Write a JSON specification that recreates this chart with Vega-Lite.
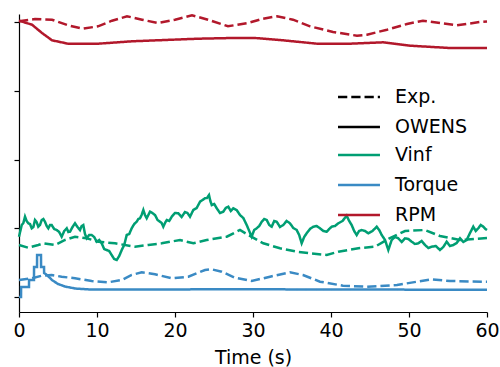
{
  "$schema": "https://vega.github.io/schema/vega-lite/v6.json",
  "width": 468,
  "height": 298,
  "autosize": "none",
  "padding": {"left": 19, "top": 14, "right": 13, "bottom": 55},
  "background": "white",
  "config": {"view": {"stroke": null}, "font": "DejaVu Sans"},
  "data": {"values": [
    {"t":0,"v":275.7,"var":"RPM","src":"Exp."},{"t":2.05,"v":278,"var":"RPM","src":"Exp."},{"t":4.23,"v":277.3,"var":"RPM","src":"Exp."},{"t":6.28,"v":271.7,"var":"RPM","src":"Exp."},{"t":8.21,"v":268.3,"var":"RPM","src":"Exp."},{"t":10.13,"v":270.7,"var":"RPM","src":"Exp."},{"t":11.92,"v":276.3,"var":"RPM","src":"Exp."},{"t":13.85,"v":280.7,"var":"RPM","src":"Exp."},{"t":15.77,"v":277.3,"var":"RPM","src":"Exp."},{"t":17.82,"v":274,"var":"RPM","src":"Exp."},{"t":20,"v":277.3,"var":"RPM","src":"Exp."},{"t":22.18,"v":281.7,"var":"RPM","src":"Exp."},{"t":24.23,"v":277.3,"var":"RPM","src":"Exp."},{"t":26.79,"v":270.7,"var":"RPM","src":"Exp."},{"t":29.36,"v":274,"var":"RPM","src":"Exp."},{"t":31.28,"v":278.3,"var":"RPM","src":"Exp."},{"t":33.08,"v":280.7,"var":"RPM","src":"Exp."},{"t":35.13,"v":277.3,"var":"RPM","src":"Exp."},{"t":37.31,"v":270.7,"var":"RPM","src":"Exp."},{"t":40.26,"v":265,"var":"RPM","src":"Exp."},{"t":43.33,"v":261.3,"var":"RPM","src":"Exp."},{"t":44.62,"v":262.3,"var":"RPM","src":"Exp."},{"t":47.18,"v":267.3,"var":"RPM","src":"Exp."},{"t":49.74,"v":273,"var":"RPM","src":"Exp."},{"t":51.79,"v":276.3,"var":"RPM","src":"Exp."},{"t":53.97,"v":274,"var":"RPM","src":"Exp."},{"t":56.15,"v":271.7,"var":"RPM","src":"Exp."},{"t":59.1,"v":275,"var":"RPM","src":"Exp."},{"t":60,"v":275.5,"var":"RPM","src":"Exp."},

    {"t":0,"v":276.3,"var":"RPM","src":"OWENS"},{"t":1.67,"v":272.3,"var":"RPM","src":"OWENS"},{"t":2.95,"v":264,"var":"RPM","src":"OWENS"},{"t":4.23,"v":256.7,"var":"RPM","src":"OWENS"},{"t":6.28,"v":253.3,"var":"RPM","src":"OWENS"},{"t":10.13,"v":253.3,"var":"RPM","src":"OWENS"},{"t":14.49,"v":255.7,"var":"RPM","src":"OWENS"},{"t":18.72,"v":257,"var":"RPM","src":"OWENS"},{"t":22.95,"v":258.3,"var":"RPM","src":"OWENS"},{"t":27.31,"v":259,"var":"RPM","src":"OWENS"},{"t":30.26,"v":259,"var":"RPM","src":"OWENS"},{"t":33.85,"v":256.7,"var":"RPM","src":"OWENS"},{"t":38.21,"v":253.3,"var":"RPM","src":"OWENS"},{"t":42.44,"v":253.3,"var":"RPM","src":"OWENS"},{"t":46.67,"v":254.7,"var":"RPM","src":"OWENS"},{"t":50.13,"v":251.3,"var":"RPM","src":"OWENS"},{"t":55.26,"v":249,"var":"RPM","src":"OWENS"},{"t":60,"v":249,"var":"RPM","src":"OWENS"},

    {"t":0,"v":52,"var":"Vinf","src":"Exp."},{"t":1.19,"v":49.3,"var":"Vinf","src":"Exp."},{"t":2.47,"v":52,"var":"Vinf","src":"Exp."},{"t":3.12,"v":53.7,"var":"Vinf","src":"Exp."},{"t":4.62,"v":52,"var":"Vinf","src":"Exp."},{"t":5.9,"v":57,"var":"Vinf","src":"Exp."},{"t":7.18,"v":60.3,"var":"Vinf","src":"Exp."},{"t":8.68,"v":58.7,"var":"Vinf","src":"Exp."},{"t":10.17,"v":55.3,"var":"Vinf","src":"Exp."},{"t":12.31,"v":53.7,"var":"Vinf","src":"Exp."},{"t":14.87,"v":50.3,"var":"Vinf","src":"Exp."},{"t":16.58,"v":52,"var":"Vinf","src":"Exp."},{"t":18.29,"v":53.7,"var":"Vinf","src":"Exp."},{"t":20.64,"v":57,"var":"Vinf","src":"Exp."},{"t":22.35,"v":53.7,"var":"Vinf","src":"Exp."},{"t":24.06,"v":57,"var":"Vinf","src":"Exp."},{"t":26.63,"v":60.3,"var":"Vinf","src":"Exp."},{"t":28.33,"v":67,"var":"Vinf","src":"Exp."},{"t":29.4,"v":62,"var":"Vinf","src":"Exp."},{"t":31.32,"v":53.7,"var":"Vinf","src":"Exp."},{"t":33.46,"v":48.7,"var":"Vinf","src":"Exp."},{"t":35.6,"v":45.3,"var":"Vinf","src":"Exp."},{"t":37.31,"v":43.7,"var":"Vinf","src":"Exp."},{"t":39.45,"v":42,"var":"Vinf","src":"Exp."},{"t":40.94,"v":45.3,"var":"Vinf","src":"Exp."},{"t":43.5,"v":48.7,"var":"Vinf","src":"Exp."},{"t":45.64,"v":50.3,"var":"Vinf","src":"Exp."},{"t":47.56,"v":59,"var":"Vinf","src":"Exp."},{"t":49.49,"v":66,"var":"Vinf","src":"Exp."},{"t":52.05,"v":67,"var":"Vinf","src":"Exp."},{"t":53.97,"v":61,"var":"Vinf","src":"Exp."},{"t":56.54,"v":57,"var":"Vinf","src":"Exp."},{"t":60,"v":59,"var":"Vinf","src":"Exp."},

    {"t":0,"v":60.3,"var":"Vinf","src":"OWENS"},{"t":0.35,"v":72,"var":"Vinf","src":"OWENS"},{"t":0.56,"v":74,"var":"Vinf","src":"OWENS"},{"t":0.77,"v":80.3,"var":"Vinf","src":"OWENS"},{"t":0.98,"v":76,"var":"Vinf","src":"OWENS"},{"t":1.19,"v":73.7,"var":"Vinf","src":"OWENS"},{"t":1.41,"v":73,"var":"Vinf","src":"OWENS"},{"t":1.63,"v":68.7,"var":"Vinf","src":"OWENS"},{"t":1.84,"v":70,"var":"Vinf","src":"OWENS"},{"t":2.05,"v":77,"var":"Vinf","src":"OWENS"},{"t":2.26,"v":75,"var":"Vinf","src":"OWENS"},{"t":2.47,"v":70.3,"var":"Vinf","src":"OWENS"},{"t":2.69,"v":72,"var":"Vinf","src":"OWENS"},{"t":2.91,"v":77,"var":"Vinf","src":"OWENS"},{"t":3.12,"v":78,"var":"Vinf","src":"OWENS"},{"t":3.33,"v":75.3,"var":"Vinf","src":"OWENS"},{"t":3.55,"v":71,"var":"Vinf","src":"OWENS"},{"t":3.76,"v":68.7,"var":"Vinf","src":"OWENS"},{"t":3.98,"v":72,"var":"Vinf","src":"OWENS"},{"t":4.19,"v":72,"var":"Vinf","src":"OWENS"},{"t":4.51,"v":68,"var":"Vinf","src":"OWENS"},{"t":4.83,"v":67,"var":"Vinf","src":"OWENS"},{"t":5.15,"v":65,"var":"Vinf","src":"OWENS"},{"t":5.47,"v":60.3,"var":"Vinf","src":"OWENS"},{"t":5.8,"v":66,"var":"Vinf","src":"OWENS"},{"t":6.12,"v":68.7,"var":"Vinf","src":"OWENS"},{"t":6.33,"v":65,"var":"Vinf","src":"OWENS"},{"t":6.54,"v":65.3,"var":"Vinf","src":"OWENS"},{"t":6.86,"v":70,"var":"Vinf","src":"OWENS"},{"t":7.18,"v":73.7,"var":"Vinf","src":"OWENS"},{"t":7.5,"v":70,"var":"Vinf","src":"OWENS"},{"t":7.82,"v":67,"var":"Vinf","src":"OWENS"},{"t":8.03,"v":71,"var":"Vinf","src":"OWENS"},{"t":8.24,"v":72,"var":"Vinf","src":"OWENS"},{"t":8.46,"v":63,"var":"Vinf","src":"OWENS"},{"t":8.68,"v":58.7,"var":"Vinf","src":"OWENS"},{"t":9.0,"v":62,"var":"Vinf","src":"OWENS"},{"t":9.32,"v":62,"var":"Vinf","src":"OWENS"},{"t":9.64,"v":60,"var":"Vinf","src":"OWENS"},{"t":9.96,"v":55.3,"var":"Vinf","src":"OWENS"},{"t":10.28,"v":57,"var":"Vinf","src":"OWENS"},{"t":10.6,"v":53.7,"var":"Vinf","src":"OWENS"},{"t":10.92,"v":48,"var":"Vinf","src":"OWENS"},{"t":11.24,"v":47,"var":"Vinf","src":"OWENS"},{"t":11.56,"v":46,"var":"Vinf","src":"OWENS"},{"t":11.88,"v":42,"var":"Vinf","src":"OWENS"},{"t":12.2,"v":38,"var":"Vinf","src":"OWENS"},{"t":12.53,"v":37,"var":"Vinf","src":"OWENS"},{"t":12.85,"v":41,"var":"Vinf","src":"OWENS"},{"t":13.17,"v":47,"var":"Vinf","src":"OWENS"},{"t":13.49,"v":52,"var":"Vinf","src":"OWENS"},{"t":13.81,"v":62,"var":"Vinf","src":"OWENS"},{"t":14.13,"v":63,"var":"Vinf","src":"OWENS"},{"t":14.45,"v":68.7,"var":"Vinf","src":"OWENS"},{"t":14.77,"v":73,"var":"Vinf","src":"OWENS"},{"t":15.09,"v":75.3,"var":"Vinf","src":"OWENS"},{"t":15.3,"v":78,"var":"Vinf","src":"OWENS"},{"t":15.51,"v":78.7,"var":"Vinf","src":"OWENS"},{"t":15.72,"v":82,"var":"Vinf","src":"OWENS"},{"t":15.94,"v":87,"var":"Vinf","src":"OWENS"},{"t":16.15,"v":82,"var":"Vinf","src":"OWENS"},{"t":16.37,"v":78.7,"var":"Vinf","src":"OWENS"},{"t":16.58,"v":82,"var":"Vinf","src":"OWENS"},{"t":16.79,"v":85.3,"var":"Vinf","src":"OWENS"},{"t":17.1,"v":84,"var":"Vinf","src":"OWENS"},{"t":17.44,"v":82,"var":"Vinf","src":"OWENS"},{"t":17.76,"v":77,"var":"Vinf","src":"OWENS"},{"t":18.08,"v":75.3,"var":"Vinf","src":"OWENS"},{"t":18.29,"v":74,"var":"Vinf","src":"OWENS"},{"t":18.5,"v":70.3,"var":"Vinf","src":"OWENS"},{"t":18.72,"v":74,"var":"Vinf","src":"OWENS"},{"t":18.94,"v":77,"var":"Vinf","src":"OWENS"},{"t":19.26,"v":76,"var":"Vinf","src":"OWENS"},{"t":19.58,"v":80.3,"var":"Vinf","src":"OWENS"},{"t":20.0,"v":84,"var":"Vinf","src":"OWENS"},{"t":20.42,"v":83.7,"var":"Vinf","src":"OWENS"},{"t":20.85,"v":80,"var":"Vinf","src":"OWENS"},{"t":21.28,"v":85,"var":"Vinf","src":"OWENS"},{"t":21.6,"v":84,"var":"Vinf","src":"OWENS"},{"t":21.92,"v":80.3,"var":"Vinf","src":"OWENS"},{"t":22.35,"v":87,"var":"Vinf","src":"OWENS"},{"t":22.78,"v":89,"var":"Vinf","src":"OWENS"},{"t":23.21,"v":95.3,"var":"Vinf","src":"OWENS"},{"t":23.53,"v":97,"var":"Vinf","src":"OWENS"},{"t":23.85,"v":98.7,"var":"Vinf","src":"OWENS"},{"t":24.1,"v":99,"var":"Vinf","src":"OWENS"},{"t":24.36,"v":102,"var":"Vinf","src":"OWENS"},{"t":24.53,"v":96,"var":"Vinf","src":"OWENS"},{"t":24.71,"v":92,"var":"Vinf","src":"OWENS"},{"t":25.03,"v":93,"var":"Vinf","src":"OWENS"},{"t":25.35,"v":88.7,"var":"Vinf","src":"OWENS"},{"t":25.77,"v":84,"var":"Vinf","src":"OWENS"},{"t":26.19,"v":85.3,"var":"Vinf","src":"OWENS"},{"t":26.51,"v":89,"var":"Vinf","src":"OWENS"},{"t":26.83,"v":90.3,"var":"Vinf","src":"OWENS"},{"t":27.15,"v":86,"var":"Vinf","src":"OWENS"},{"t":27.47,"v":88.7,"var":"Vinf","src":"OWENS"},{"t":27.9,"v":87,"var":"Vinf","src":"OWENS"},{"t":28.33,"v":82,"var":"Vinf","src":"OWENS"},{"t":28.76,"v":79,"var":"Vinf","src":"OWENS"},{"t":29.19,"v":72,"var":"Vinf","src":"OWENS"},{"t":29.83,"v":60.3,"var":"Vinf","src":"OWENS"},{"t":30.15,"v":67,"var":"Vinf","src":"OWENS"},{"t":30.47,"v":68.7,"var":"Vinf","src":"OWENS"},{"t":30.8,"v":71,"var":"Vinf","src":"OWENS"},{"t":31.12,"v":75.3,"var":"Vinf","src":"OWENS"},{"t":31.44,"v":78,"var":"Vinf","src":"OWENS"},{"t":31.76,"v":77,"var":"Vinf","src":"OWENS"},{"t":32.08,"v":72,"var":"Vinf","src":"OWENS"},{"t":32.4,"v":70.3,"var":"Vinf","src":"OWENS"},{"t":32.72,"v":76,"var":"Vinf","src":"OWENS"},{"t":33.04,"v":75.3,"var":"Vinf","src":"OWENS"},{"t":33.46,"v":70,"var":"Vinf","src":"OWENS"},{"t":33.88,"v":72,"var":"Vinf","src":"OWENS"},{"t":34.31,"v":76,"var":"Vinf","src":"OWENS"},{"t":34.74,"v":73.7,"var":"Vinf","src":"OWENS"},{"t":35.17,"v":69,"var":"Vinf","src":"OWENS"},{"t":35.6,"v":67,"var":"Vinf","src":"OWENS"},{"t":35.92,"v":62,"var":"Vinf","src":"OWENS"},{"t":36.24,"v":53.7,"var":"Vinf","src":"OWENS"},{"t":36.56,"v":60,"var":"Vinf","src":"OWENS"},{"t":36.88,"v":63.7,"var":"Vinf","src":"OWENS"},{"t":37.3,"v":68,"var":"Vinf","src":"OWENS"},{"t":37.73,"v":70.3,"var":"Vinf","src":"OWENS"},{"t":38.16,"v":71,"var":"Vinf","src":"OWENS"},{"t":38.59,"v":68.7,"var":"Vinf","src":"OWENS"},{"t":39.02,"v":66,"var":"Vinf","src":"OWENS"},{"t":39.45,"v":65.3,"var":"Vinf","src":"OWENS"},{"t":39.77,"v":68,"var":"Vinf","src":"OWENS"},{"t":40.09,"v":70.3,"var":"Vinf","src":"OWENS"},{"t":40.51,"v":71,"var":"Vinf","src":"OWENS"},{"t":40.94,"v":73.7,"var":"Vinf","src":"OWENS"},{"t":41.47,"v":76,"var":"Vinf","src":"OWENS"},{"t":42.01,"v":81.3,"var":"Vinf","src":"OWENS"},{"t":42.33,"v":76,"var":"Vinf","src":"OWENS"},{"t":42.65,"v":72,"var":"Vinf","src":"OWENS"},{"t":42.97,"v":66,"var":"Vinf","src":"OWENS"},{"t":43.29,"v":62,"var":"Vinf","src":"OWENS"},{"t":43.6,"v":66,"var":"Vinf","src":"OWENS"},{"t":43.94,"v":67,"var":"Vinf","src":"OWENS"},{"t":44.36,"v":66,"var":"Vinf","src":"OWENS"},{"t":44.78,"v":63.7,"var":"Vinf","src":"OWENS"},{"t":45.32,"v":66,"var":"Vinf","src":"OWENS"},{"t":45.86,"v":70.3,"var":"Vinf","src":"OWENS"},{"t":46.18,"v":67,"var":"Vinf","src":"OWENS"},{"t":46.5,"v":62,"var":"Vinf","src":"OWENS"},{"t":46.93,"v":57,"var":"Vinf","src":"OWENS"},{"t":47.35,"v":47,"var":"Vinf","src":"OWENS"},{"t":47.78,"v":57,"var":"Vinf","src":"OWENS"},{"t":48.2,"v":60,"var":"Vinf","src":"OWENS"},{"t":48.63,"v":58.7,"var":"Vinf","src":"OWENS"},{"t":49.06,"v":55,"var":"Vinf","src":"OWENS"},{"t":49.49,"v":58.7,"var":"Vinf","src":"OWENS"},{"t":49.92,"v":58,"var":"Vinf","src":"OWENS"},{"t":50.35,"v":55.3,"var":"Vinf","src":"OWENS"},{"t":50.77,"v":53,"var":"Vinf","src":"OWENS"},{"t":51.19,"v":53.7,"var":"Vinf","src":"OWENS"},{"t":51.62,"v":56,"var":"Vinf","src":"OWENS"},{"t":52.05,"v":52,"var":"Vinf","src":"OWENS"},{"t":52.48,"v":49,"var":"Vinf","src":"OWENS"},{"t":52.91,"v":50.3,"var":"Vinf","src":"OWENS"},{"t":53.44,"v":51,"var":"Vinf","src":"OWENS"},{"t":53.97,"v":47,"var":"Vinf","src":"OWENS"},{"t":54.4,"v":50,"var":"Vinf","src":"OWENS"},{"t":54.83,"v":55.3,"var":"Vinf","src":"OWENS"},{"t":55.25,"v":51,"var":"Vinf","src":"OWENS"},{"t":55.68,"v":52,"var":"Vinf","src":"OWENS"},{"t":56.11,"v":54,"var":"Vinf","src":"OWENS"},{"t":56.54,"v":58.7,"var":"Vinf","src":"OWENS"},{"t":56.97,"v":55,"var":"Vinf","src":"OWENS"},{"t":57.4,"v":57,"var":"Vinf","src":"OWENS"},{"t":57.82,"v":64,"var":"Vinf","src":"OWENS"},{"t":58.24,"v":70.3,"var":"Vinf","src":"OWENS"},{"t":58.56,"v":66,"var":"Vinf","src":"OWENS"},{"t":58.88,"v":68.7,"var":"Vinf","src":"OWENS"},{"t":59.2,"v":72,"var":"Vinf","src":"OWENS"},{"t":59.53,"v":70.3,"var":"Vinf","src":"OWENS"},{"t":59.8,"v":68,"var":"Vinf","src":"OWENS"},{"t":60,"v":67,"var":"Vinf","src":"OWENS"},

    {"t":0,"v":17,"var":"Torque","src":"Exp."},{"t":1.63,"v":18.7,"var":"Torque","src":"Exp."},{"t":2.91,"v":21.3,"var":"Torque","src":"Exp."},{"t":4.19,"v":22,"var":"Torque","src":"Exp."},{"t":5.47,"v":20.3,"var":"Torque","src":"Exp."},{"t":7.18,"v":18.7,"var":"Torque","src":"Exp."},{"t":9.32,"v":16,"var":"Torque","src":"Exp."},{"t":11.45,"v":14.7,"var":"Torque","src":"Exp."},{"t":13.17,"v":17,"var":"Torque","src":"Exp."},{"t":14.45,"v":22,"var":"Torque","src":"Exp."},{"t":15.73,"v":24.7,"var":"Torque","src":"Exp."},{"t":17.44,"v":22.7,"var":"Torque","src":"Exp."},{"t":19.58,"v":18.7,"var":"Torque","src":"Exp."},{"t":21.71,"v":20.3,"var":"Torque","src":"Exp."},{"t":23.85,"v":27,"var":"Torque","src":"Exp."},{"t":24.71,"v":27.7,"var":"Torque","src":"Exp."},{"t":25.99,"v":25.3,"var":"Torque","src":"Exp."},{"t":27.69,"v":19.3,"var":"Torque","src":"Exp."},{"t":29.83,"v":16,"var":"Torque","src":"Exp."},{"t":32.18,"v":20.3,"var":"Torque","src":"Exp."},{"t":34.74,"v":24.7,"var":"Torque","src":"Exp."},{"t":36.41,"v":22,"var":"Torque","src":"Exp."},{"t":38.59,"v":15.3,"var":"Torque","src":"Exp."},{"t":41.54,"v":11.3,"var":"Torque","src":"Exp."},{"t":44.62,"v":10.3,"var":"Torque","src":"Exp."},{"t":48.46,"v":12,"var":"Torque","src":"Exp."},{"t":51.03,"v":15.3,"var":"Torque","src":"Exp."},{"t":52.95,"v":17.7,"var":"Torque","src":"Exp."},{"t":55.26,"v":16,"var":"Torque","src":"Exp."},{"t":59.49,"v":15.3,"var":"Torque","src":"Exp."},{"t":60,"v":15.3,"var":"Torque","src":"Exp."},

    {"t":0,"v":0,"var":"Torque","src":"OWENS"},{"t":0.26,"v":0,"var":"Torque","src":"OWENS"},{"t":0.27,"v":10,"var":"Torque","src":"OWENS"},{"t":1.28,"v":10,"var":"Torque","src":"OWENS"},{"t":1.29,"v":17,"var":"Torque","src":"OWENS"},{"t":1.92,"v":17,"var":"Torque","src":"OWENS"},{"t":1.93,"v":30,"var":"Torque","src":"OWENS"},{"t":2.31,"v":30,"var":"Torque","src":"OWENS"},{"t":2.32,"v":42,"var":"Torque","src":"OWENS"},{"t":2.82,"v":42,"var":"Torque","src":"OWENS"},{"t":2.83,"v":30,"var":"Torque","src":"OWENS"},{"t":3.21,"v":30,"var":"Torque","src":"OWENS"},{"t":3.22,"v":24,"var":"Torque","src":"OWENS"},{"t":3.59,"v":22,"var":"Torque","src":"OWENS"},{"t":4.23,"v":17,"var":"Torque","src":"OWENS"},{"t":5,"v":13,"var":"Torque","src":"OWENS"},{"t":5.9,"v":10.5,"var":"Torque","src":"OWENS"},{"t":7.18,"v":8.5,"var":"Torque","src":"OWENS"},{"t":9.1,"v":7.5,"var":"Torque","src":"OWENS"},{"t":29.6,"v":7.7,"var":"Torque","src":"OWENS"},{"t":60,"v":7.2,"var":"Torque","src":"OWENS"}
  ]},
  "mark": {"type": "line", "strokeWidth": 2.5, "strokeCap": "butt"},
  "encoding": {
    "x": {"field": "t", "type": "quantitative",
      "scale": {"domain": [0, 60], "nice": false, "zero": false},
      "axis": {"values": [0,10,20,30,40,50,60], "grid": false, "title": "Time (s)",
        "titleFontSize": 19, "titleFontWeight": "normal", "titleColor": "black", "titlePadding": 8,
        "labelFontSize": 19, "labelColor": "black", "labelPadding": 4,
        "tickSize": 5, "tickColor": "black", "tickWidth": 1.2, "domainColor": "black", "domainWidth": 1.2, "labelFlush": false}},
    "y": {"field": "v", "type": "quantitative",
      "scale": {"domain": [-15, 283], "nice": false, "zero": false},
      "axis": {"values": [0, 68.75, 137.5, 206.25, 275], "grid": false, "labels": false, "title": null,
        "tickSize": 5, "tickColor": "black", "tickWidth": 1.2, "domainColor": "black", "domainWidth": 1.2}},
    "color": {"field": "var", "type": "nominal",
      "scale": {"domain": ["Vinf", "Torque", "RPM"], "range": ["#009e73", "#3a8ac4", "#b2182b"]},
      "legend": {"orient": "none", "legendX": 330.5, "legendY": 131.5, "title": null, "padding": 0,
        "symbolType": "M-4,0H4", "symbolSize": 110, "symbolStrokeWidth": 2.5,
        "labelFontSize": 19, "labelColor": "black", "labelOffset": 26.5, "rowPadding": 10}},
    "strokeDash": {"field": "src", "type": "nominal",
      "scale": {"domain": ["Exp.", "OWENS"], "range": [[9.25, 4], [1, 0]]},
      "legend": {"orient": "none", "legendX": 330.5, "legendY": 73.5, "title": null, "padding": 0,
        "symbolType": "M-4,0H4", "symbolSize": 110, "symbolStrokeWidth": 2.5, "symbolStrokeColor": "black",
        "labelFontSize": 19, "labelColor": "black", "labelOffset": 26.5, "rowPadding": 10}}
  }
}
